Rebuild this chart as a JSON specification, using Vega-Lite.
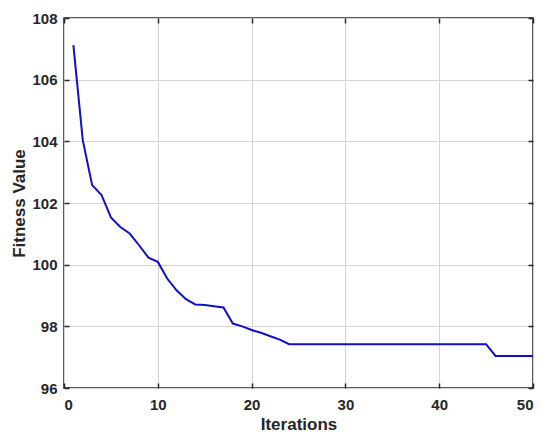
{
  "$schema": "https://vega.github.io/schema/vega-lite/v6.json",
  "width": 469,
  "height": 370,
  "autosize": "none",
  "padding": {"left": 64, "top": 18, "right": 17, "bottom": 58},
  "background": "white",
  "config": {
    "view": {"stroke": "#262626", "strokeWidth": 1.5},
    "font": "Liberation Sans"
  },
  "data": {
    "values": [
      {"it": 1, "f": 107.12}, {"it": 2, "f": 104.04}, {"it": 3, "f": 102.58},
      {"it": 4, "f": 102.26}, {"it": 5, "f": 101.53}, {"it": 6, "f": 101.22},
      {"it": 7, "f": 101.01}, {"it": 8, "f": 100.63}, {"it": 9, "f": 100.23},
      {"it": 10, "f": 100.09}, {"it": 11, "f": 99.55}, {"it": 12, "f": 99.17},
      {"it": 13, "f": 98.88}, {"it": 14, "f": 98.71}, {"it": 15, "f": 98.69},
      {"it": 16, "f": 98.65}, {"it": 17, "f": 98.61}, {"it": 18, "f": 98.09},
      {"it": 19, "f": 98.0}, {"it": 20, "f": 97.88}, {"it": 21, "f": 97.79},
      {"it": 22, "f": 97.68}, {"it": 23, "f": 97.57}, {"it": 24, "f": 97.42},
      {"it": 25, "f": 97.42}, {"it": 26, "f": 97.42}, {"it": 27, "f": 97.42},
      {"it": 28, "f": 97.42}, {"it": 29, "f": 97.42}, {"it": 30, "f": 97.42},
      {"it": 31, "f": 97.42}, {"it": 32, "f": 97.42}, {"it": 33, "f": 97.42},
      {"it": 34, "f": 97.42}, {"it": 35, "f": 97.42}, {"it": 36, "f": 97.42},
      {"it": 37, "f": 97.42}, {"it": 38, "f": 97.42}, {"it": 39, "f": 97.42},
      {"it": 40, "f": 97.42}, {"it": 41, "f": 97.42}, {"it": 42, "f": 97.42},
      {"it": 43, "f": 97.42}, {"it": 44, "f": 97.42}, {"it": 45, "f": 97.42},
      {"it": 46, "f": 97.04}, {"it": 47, "f": 97.04}, {"it": 48, "f": 97.04},
      {"it": 49, "f": 97.04}, {"it": 50, "f": 97.04}
    ]
  },
  "layer": [
    {
      "mark": {"type": "line", "color": "#1010c8", "strokeWidth": 2},
      "encoding": {
        "x": {
          "field": "it", "type": "quantitative",
          "scale": {"domain": [0, 50], "nice": false},
          "axis": {
            "title": "Iterations", "values": [0, 10, 20, 30, 40, 50],
            "grid": true, "gridColor": "#d4d4d4", "gridWidth": 1,
            "domain": false, "tickSize": -5, "tickColor": "#262626", "tickWidth": 1.5,
            "labelPadding": 14, "labelFont": "Liberation Sans", "labelFontWeight": "bold",
            "labelFontSize": 15, "labelColor": "#262626",
            "titleFont": "Liberation Sans", "titleFontWeight": "bold", "titleFontSize": 17,
            "titleColor": "#262626", "titlePadding": 4
          }
        },
        "y": {
          "field": "f", "type": "quantitative",
          "scale": {"domain": [96, 108], "nice": false, "zero": false},
          "axis": {
            "title": "Fitness Value", "values": [96, 98, 100, 102, 104, 106, 108],
            "grid": true, "gridColor": "#d4d4d4", "gridWidth": 1,
            "domain": false, "tickSize": -5, "tickColor": "#262626", "tickWidth": 1.5,
            "labelPadding": 12, "labelFont": "Liberation Sans", "labelFontWeight": "bold",
            "labelFontSize": 15, "labelColor": "#262626",
            "titleFont": "Liberation Sans", "titleFontWeight": "bold", "titleFontSize": 17,
            "titleColor": "#262626", "titlePadding": 3
          }
        }
      }
    },
    {
      "mark": {"type": "line", "opacity": 0},
      "encoding": {
        "x": {
          "field": "it", "type": "quantitative",
          "scale": {"domain": [0, 50], "nice": false},
          "axis": {"orient": "top", "title": null, "labels": false, "grid": false,
            "values": [0, 10, 20, 30, 40, 50], "domain": false,
            "tickSize": -5, "tickColor": "#262626", "tickWidth": 1.5}
        },
        "y": {
          "field": "f", "type": "quantitative",
          "scale": {"domain": [96, 108], "nice": false, "zero": false},
          "axis": {"orient": "right", "title": null, "labels": false, "grid": false,
            "values": [96, 98, 100, 102, 104, 106, 108], "domain": false,
            "tickSize": -5, "tickColor": "#262626", "tickWidth": 1.5}
        }
      }
    }
  ],
  "resolve": {"axis": {"x": "independent", "y": "independent"}}
}
